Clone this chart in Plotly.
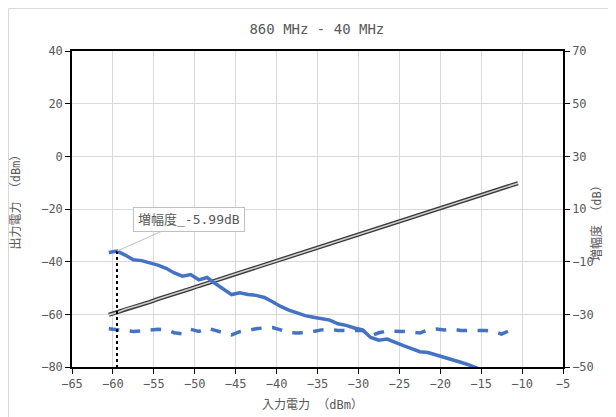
import plotly.graph_objects as go

# Input power (dBm)
input_power = [-60.5, -59.5, -58.5, -57.5, -56.5, -55.5, -54.5, -53.5, -52.5, -51.5,
               -50.5, -49.5, -48.5, -47.5, -46.5, -45.5, -44.5, -43.5, -42.5, -41.5,
               -40.5, -39.5, -38.5, -37.5, -36.5, -35.5, -34.5, -33.5, -32.5, -31.5,
               -30.5, -29.5, -28.5, -27.5, -26.5, -25.5, -24.5, -23.5, -22.5, -21.5,
               -20.5, -19.5, -18.5, -17.5, -16.5, -15.5, -14.5, -13.5, -12.5, -11.5,
               -10.5]

# Output power (dBm), left axis
output_power = [-60.2, -59.3, -58.1, -57.2, -56.2, -55.3, -54.2, -53.3, -52.2, -51.2,
                -50.3, -49.2, -48.2, -47.3, -46.2, -45.2, -44.3, -43.2, -42.2, -41.2,
                -40.3, -39.2, -38.2, -37.3, -36.2, -35.2, -34.3, -33.2, -32.3, -31.2,
                -30.2, -29.3, -28.2, -27.2, -26.3, -25.2, -24.2, -23.3, -22.2, -21.2,
                -20.3, -19.2, -18.2, -17.3, -16.2, -15.2, -14.3, -13.2, -12.2, -11.3,
                -10.2]

# Gain (dB), right axis - solid
gain_solid = [-6.5, -5.99, -7.5, -9.3, -9.6, -10.4, -11.3, -12.5, -14.3, -15.5,
              -14.9, -16.9, -16.0, -18.3, -20.5, -22.5, -21.8, -22.5, -22.8, -23.6,
              -25.2, -27.0, -28.4, -29.5, -30.5, -31.1, -31.5, -32.2, -33.6, -34.2,
              -35.2, -35.9, -38.8, -39.8, -39.4, -40.8, -41.9, -43.0, -44.2, -44.5,
              -45.4, -46.3, -47.0, -48.2, -49.2, -50.5, -51.8, -53.0, -54.2, -55.5,
              -56.6]

# Gain (dB), right axis - dashed
gain_dashed = [-35.5, -35.9, -36.3, -36.5, -36.3, -35.9, -35.7, -35.9, -37.0, -37.4,
               -35.7, -36.5, -35.2, -36.1, -37.0, -37.8, -36.6, -35.9, -35.5, -35.1,
               -35.0, -35.9, -36.9, -37.1, -37.0, -36.5, -35.9, -35.7, -36.1, -36.1,
               -36.1, -36.1, -38.2, -37.0, -36.3, -36.3, -36.5, -36.8, -37.1, -35.9,
               -35.6, -35.9, -35.6, -36.1, -36.1, -36.1, -36.1, -36.5, -37.5, -36.1,
               -36.7]

marker_index = 1
marker_label = "増幅度_-5.99dB"

title_text = "860 MHz - 40 MHz"
x_title = "入力電力 （dBm）"
y_title = "出力電力 （dBm）"
y2_title = "増幅度 （dB）"

FONT = "DejaVu Sans Mono, Noto Sans CJK JP"
TXT = "#595959"
BLUE = "#4472C4"

fig = go.Figure()

fig.add_trace(go.Scatter(x=input_power, y=output_power, mode="lines",
                         line=dict(color="#3a3a3a", width=4.2), showlegend=False,
                         hoverinfo="skip"))
fig.add_trace(go.Scatter(x=input_power, y=output_power, mode="lines",
                         line=dict(color="#cfcfcf", width=1.6), showlegend=False))
fig.add_trace(go.Scatter(x=input_power, y=gain_solid, mode="lines", yaxis="y2",
                         line=dict(color=BLUE, width=3.5), showlegend=False))
fig.add_trace(go.Scatter(x=input_power, y=gain_dashed, mode="lines", yaxis="y2",
                         line=dict(color=BLUE, width=3.5, dash="dash"), showlegend=False))

mx = input_power[marker_index]
my = gain_solid[marker_index]

# dotted vertical marker line
fig.add_shape(type="line", xref="x", yref="y2", x0=mx, x1=mx, y0=my, y1=-50,
              line=dict(color="black", width=2, dash="dot"))

# outer chart border (paper coords relative to plot area)
fig.add_shape(type="rect", xref="paper", yref="paper",
              x0=-0.1293, x1=1.0967, y0=-0.2, y1=1.1345,
              line=dict(color="#d9d9d9", width=1), fillcolor="rgba(0,0,0,0)")

fig.add_annotation(x=mx, y=my, xref="x", yref="y2", text=marker_label,
                   showarrow=True, arrowhead=0, arrowcolor="#bfbfbf", arrowwidth=1,
                   ax=72, ay=-32, bgcolor="white", bordercolor="#bfbfbf", borderwidth=1,
                   borderpad=4, font=dict(family=FONT, size=13, color=TXT))

tfont = dict(family=FONT, size=12, color=TXT)
# axis titles
fig.add_annotation(text=x_title, xref="paper", yref="paper", x=0.49, y=-0.12,
                   xanchor="center", yanchor="middle", showarrow=False, font=tfont)
fig.add_annotation(text=y_title, xref="paper", yref="paper", x=-0.116, y=0.53,
                   xanchor="center", yanchor="middle", showarrow=False, font=tfont,
                   textangle=-90)
fig.add_annotation(text=y2_title, xref="paper", yref="paper", x=1.067, y=0.465,
                   xanchor="center", yanchor="middle", showarrow=False, font=tfont,
                   textangle=-90)

axis_common = dict(showgrid=True, gridcolor="#d9d9d9", gridwidth=1,
                   showline=True, linecolor="black", linewidth=1.5,
                   ticks="outside", ticklen=5, tickcolor="black",
                   tickfont=tfont, zeroline=False, automargin=False)

fig.update_layout(
    width=608, height=409,
    margin=dict(l=64, r=53, t=43, b=50),
    paper_bgcolor="white", plot_bgcolor="white",
    title=dict(text=title_text, x=0.508, xanchor="center", y=0.949, yanchor="middle",
               font=dict(family=FONT, size=14, color=TXT)),
    xaxis=dict(range=[-65, -5], dtick=5, tick0=-65, mirror=True, **axis_common),
    yaxis=dict(range=[-80, 40], dtick=20, tick0=-80, **axis_common),
    yaxis2=dict(range=[-50, 70], dtick=20, tick0=-50, overlaying="y", side="right",
                **{**axis_common, "showgrid": False}),
)

fig.write_html("out.html")
